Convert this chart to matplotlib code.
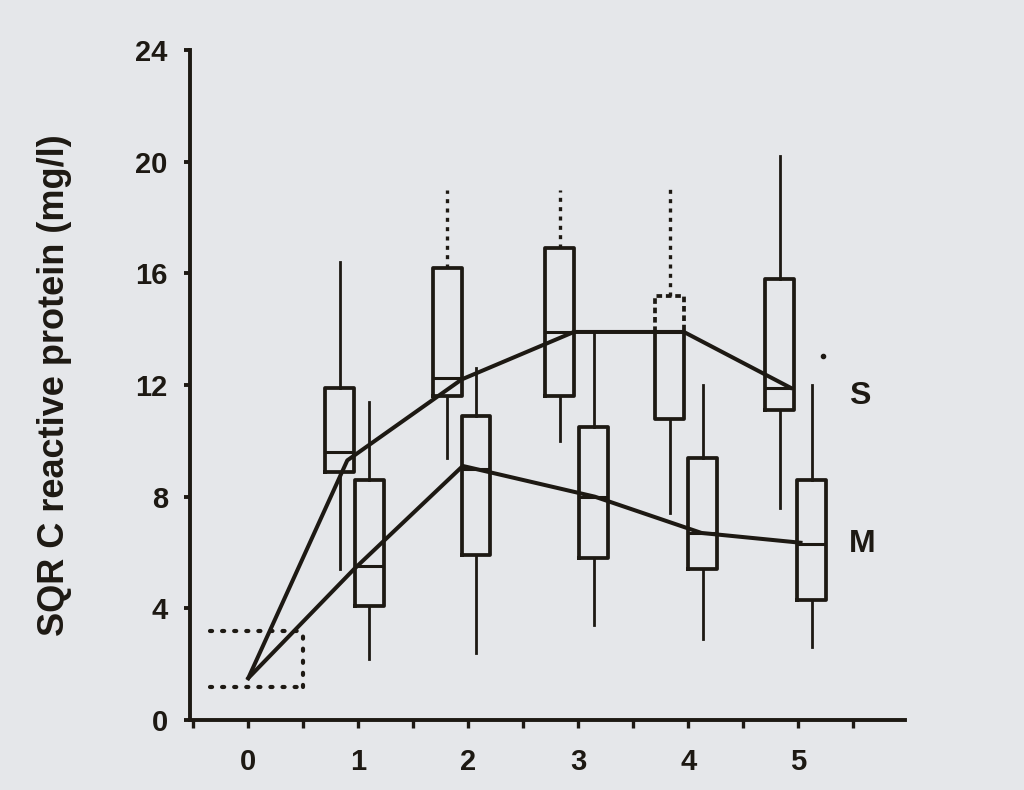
import matplotlib
matplotlib.use("Agg")
import matplotlib.pyplot as plt
from matplotlib.ticker import MultipleLocator, NullFormatter

# ---- data ----
days = [0, 1, 2, 3, 4, 5]
y_ticks = [0, 4, 8, 12, 16, 20, 24]

# S group boxes (drawn a little left of each day)
s_pos = [0.83, 1.81, 2.83, 3.83, 4.83]
s_q1 = [8.9, 11.6, 11.6, 10.8, 11.1]
s_med = [9.6, 12.25, 13.9, 13.9, 11.9]
s_q3 = [11.9, 16.2, 16.9, 15.2, 15.8]
s_lo = [5.4, 9.4, 10.0, 7.4, 7.6]
s_hi = [16.4, 19.0, 19.0, 19.1, 20.2]
s_hi_dotted = [False, True, True, True, False]

# M group boxes (drawn a little right of each day)
m_pos = [1.10, 2.07, 3.14, 4.13, 5.12]
m_q1 = [4.1, 5.9, 5.8, 5.4, 4.3]
m_med = [5.5, 9.0, 8.0, 6.7, 6.3]
m_q3 = [8.6, 10.9, 10.5, 9.4, 8.6]
m_lo = [2.2, 2.4, 3.4, 2.9, 2.6]
m_hi = [11.4, 12.6, 13.9, 12.0, 12.0]

# median trend lines
s_line_x = [0, 0.90, 1.94, 2.96, 3.96, 4.93]
s_line_y = [1.5, 9.3, 12.2, 13.9, 13.9, 11.9]
m_line_x = [0, 0.96, 1.95, 3.15, 4.12, 5.02]
m_line_y = [1.5, 5.4, 9.1, 8.0, 6.7, 6.35]

# normal range (dotted box) and the lone outlier
ref_x = [-0.35, 0.5]
ref_y = [1.2, 3.2]
outlier_x = [5.22]
outlier_y = [13.05]

INK = "#1d1913"
PAPER = "#e5e7ea"
plt.rcParams['font.family'] = ['Liberation Sans', 'DejaVu Sans']

fig = plt.figure(figsize=(10.24, 7.9), dpi=100, facecolor=PAPER)
ax = fig.add_axes([190 / 1024, 1 - 720 / 790, 715 / 1024, 670 / 790])
ax.set_facecolor(PAPER)


def stats(q1, med, q3, lo, hi):
    return [dict(q1=a, med=b, q3=c, whislo=d, whishi=e, fliers=[])
            for a, b, c, d, e in zip(q1, med, q3, lo, hi)]


box_kw = dict(widths=0.26, showcaps=False, showfliers=False,
              boxprops=dict(color=INK, lw=2.7),
              medianprops=dict(color=INK, lw=2.2),
              whiskerprops=dict(color=INK, lw=2.0))
sb = ax.bxp(stats(s_q1, s_med, s_q3, s_lo, s_hi), positions=s_pos, **box_kw)
mb = ax.bxp(stats(m_q1, m_med, m_q3, m_lo, m_hi), positions=m_pos, **box_kw)

# dotted upper whiskers on some S boxes
for i, dotted in enumerate(s_hi_dotted):
    if dotted:
        sb['whiskers'][2 * i + 1].set_linestyle((0, (1.2, 1.6)))
        sb['whiskers'][2 * i + 1].set_linewidth(2.4)

# day 4 S box: upper half drawn dotted
k = 3
sb['boxes'][k].set_visible(False)
l, r = s_pos[k] - 0.13, s_pos[k] + 0.13
ax.plot([l, l, r, r], [s_med[k], s_q3[k], s_q3[k], s_med[k]], color=INK, lw=2.7,
        ls=(0, (1.5, 1.0)))
ax.plot([l, l, r, r], [s_med[k], s_q1[k], s_q1[k], s_med[k]], color=INK, lw=2.7)

# trend lines
ax.plot(s_line_x, s_line_y, color=INK, lw=2.9, solid_joinstyle='round')
ax.plot(m_line_x, m_line_y, color=INK, lw=2.9, solid_joinstyle='round')
ax.plot(outlier_x, outlier_y, 'o', color=INK, ms=3)

# dotted normal-range box
dot = dict(color=INK, lw=3.0, ls=(0, (0.5, 2.4)), dash_capstyle='round')
ax.plot(ref_x, [ref_y[1], ref_y[1]], **dot)
ax.plot(ref_x, [ref_y[0], ref_y[0]], **dot)
ax.plot([ref_x[1], ref_x[1]], ref_y, **dot)

ax.text(5.46, 11.6, 'S', fontsize=23, fontweight='bold', color=INK, va='center')
ax.text(5.46, 6.3, 'M', fontsize=23, fontweight='bold', color=INK, va='center')

ax.set_xlim(-0.53, 5.97)
ax.set_ylim(0, 24)
ax.set_yticks(y_ticks)
ax.set_xticks(days)
ax.set_xticklabels([str(d) for d in days])
ax.xaxis.set_minor_locator(MultipleLocator(0.5))
ax.xaxis.set_minor_formatter(NullFormatter())
for s in ['top', 'right']:
    ax.spines[s].set_visible(False)
for s in ['left', 'bottom']:
    ax.spines[s].set_linewidth(2.8)
    ax.spines[s].set_color(INK)
ax.tick_params(axis='y', direction='out', length=4, width=2.8, colors=INK,
               labelsize=21, pad=12)
ax.tick_params(axis='x', which='both', direction='out', length=6, width=2.4,
               colors=INK, labelsize=21, pad=14)
for lab in ax.get_xticklabels() + ax.get_yticklabels():
    lab.set_fontweight('bold')

ax.set_ylabel('SQR C reactive protein (mg/l)', fontsize=26, fontweight='bold',
              color=INK, labelpad=46)

fig.savefig('out.png', dpi=100, facecolor=PAPER)
